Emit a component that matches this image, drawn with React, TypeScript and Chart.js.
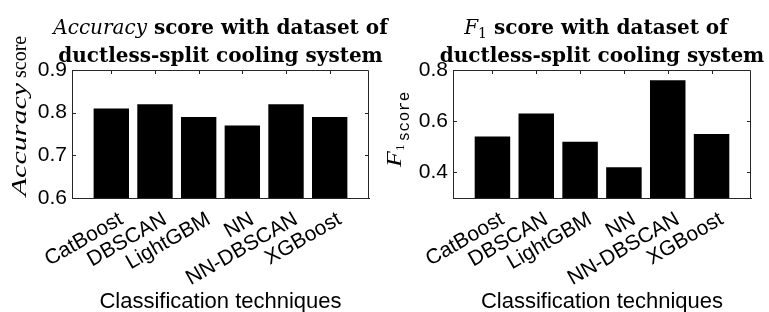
import React, { useEffect, useRef } from 'react';
import { Chart, registerables } from 'chart.js';

Chart.register(...registerables);

const categories = ['CatBoost', 'DBSCAN', 'LightGBM', 'NN', 'NN-DBSCAN', 'XGBoost'];
const accuracyValues = [0.81, 0.82, 0.79, 0.77, 0.82, 0.79];
const f1Values = [0.54, 0.63, 0.52, 0.42, 0.76, 0.55];
const accuracyTicks = [0.6, 0.7, 0.8, 0.9];
const f1Ticks = [0.4, 0.6, 0.8];
const xAxisTitle = 'Classification techniques';

const AXIS = '#262626';
const SANS = '"Liberation Sans", Arial, sans-serif';
const SERIF_T = '"DejaVu Serif", serif';
const SERIF = '"Liberation Serif", serif';
const MONO = '"Liberation Mono", monospace';

type Seg = { text: string; font: string; sx?: number; ls?: number; dy?: number };

function segWidth(ctx: CanvasRenderingContext2D, s: Seg) {
  ctx.font = s.font;
  (ctx as any).letterSpacing = (s.ls ?? 0) + 'px';
  return ctx.measureText(s.text).width * (s.sx ?? 1);
}

function drawRun(ctx: CanvasRenderingContext2D, segs: Seg[], cx: number, y: number) {
  const total = segs.reduce((acc, s) => acc + segWidth(ctx, s), 0);
  let x = cx - total / 2;
  for (const s of segs) {
    const w = segWidth(ctx, s);
    ctx.save();
    ctx.font = s.font;
    (ctx as any).letterSpacing = (s.ls ?? 0) + 'px';
    ctx.translate(x, y + (s.dy ?? 0));
    ctx.scale(s.sx ?? 1, 1);
    ctx.fillStyle = '#000';
    ctx.textAlign = 'left';
    ctx.textBaseline = 'alphabetic';
    ctx.fillText(s.text, 0, 0);
    ctx.restore();
    x += w;
  }
}

type PanelSpec = {
  values: number[];
  ticks: number[];
  yMin: number;
  yMax: number;
  width: number;
  area: { left: number; right: number; top: number; bottom: number };
  titleLines: Seg[][];
  titleBaselines: number[];
  titleShift: number[];
  yTitle: Seg[];
  yTitleX: number;
  yTitleCY: number;
};

function makeChart(canvas: HTMLCanvasElement, p: PanelSpec) {
  const H = 312;
  const textPlugin = {
    id: 'richText',
    afterDraw(chart: any) {
      const { ctx, chartArea: a } = chart;
      const cx = (a.left + a.right) / 2;
      p.titleLines.forEach((line, i) => drawRun(ctx, line, cx + p.titleShift[i], p.titleBaselines[i]));
      ctx.save();
      ctx.translate(p.yTitleX, p.yTitleCY);
      ctx.rotate(-Math.PI / 2);
      drawRun(ctx, p.yTitle, 0, 0);
      ctx.restore();
    },
  };
  const boxPlugin = {
    id: 'box',
    afterDatasetsDraw(chart: any) {
      const { ctx, chartArea: a, scales } = chart;
      const x = scales.x;
      const y = scales.y;
      ctx.save();
      ctx.strokeStyle = AXIS;
      ctx.lineWidth = 1;
      const L = Math.round(a.left) + 0.5;
      const R = Math.round(a.right) - 0.5;
      const T = Math.round(a.top) + 0.5;
      ctx.beginPath();
      ctx.moveTo(L, T);
      ctx.lineTo(R, T);
      ctx.lineTo(R, Math.round(a.bottom));
      categories.forEach((_, i) => {
        const px = Math.round(x.getPixelForValue(i + 1)) + 0.5;
        ctx.moveTo(px, T);
        ctx.lineTo(px, T + 3.5);
      });
      p.ticks.forEach((t) => {
        if (t <= p.yMin || t >= p.yMax) return;
        const py = Math.round(y.getPixelForValue(t)) + 0.5;
        ctx.moveTo(L, py);
        ctx.lineTo(L + 3.5, py);
        ctx.moveTo(R, py);
        ctx.lineTo(R - 3.5, py);
      });
      ctx.stroke();
      ctx.restore();
    },
  };

  return new Chart(canvas, {
    type: 'bar',
    data: {
      datasets: [
        {
          data: p.values.map((v, i) => ({ x: i + 1, y: v })),
          backgroundColor: '#000',
          borderWidth: 0,
          barPercentage: 0.81,
          categoryPercentage: 1,
        },
      ],
    },
    options: {
      animation: false,
      responsive: false,
      maintainAspectRatio: false,
      layout: { padding: { top: p.area.top, right: p.width - p.area.right, bottom: 0, left: 0 } },
      plugins: { legend: { display: false }, title: { display: false }, tooltip: { enabled: false } },
      scales: {
        x: {
          type: 'linear',
          offset: false,
          min: 0.1,
          max: 6.9,
          afterBuildTicks: (ax: any) => {
            ax.ticks = categories.map((_, i) => ({ value: i + 1 }));
          },
          afterFit: (s: any) => {
            s.height = H - p.area.bottom;
          },
          grid: { display: false, drawTicks: false, offset: false },
          border: { display: true, color: AXIS, width: 1 },
          ticks: {
            autoSkip: false,
            minRotation: 30,
            maxRotation: 30,
            padding: 9,
            labelOffset: 10,
            color: '#000',
            font: { family: SANS, size: 21 },
            callback: (v: any) => categories[Math.round(Number(v)) - 1] ?? '',
          },
          title: {
            display: true,
            text: xAxisTitle,
            color: '#000',
            font: { family: SANS, size: 22 },
            padding: { top: 0, bottom: -3 },
          },
        },
        y: {
          type: 'linear',
          min: p.yMin,
          max: p.yMax,
          afterBuildTicks: (ax: any) => {
            ax.ticks = p.ticks.map((t) => ({ value: t }));
          },
          afterFit: (s: any) => {
            s.width = p.area.left;
          },
          grid: { display: false, drawTicks: false },
          border: { display: true, color: AXIS, width: 1 },
          ticks: {
            padding: 5,
            color: '#000',
            font: { family: SANS, size: 21 },
            callback: (v: any) => Number(v).toFixed(1),
          },
        },
      },
    },
    plugins: [boxPlugin, textPlugin],
  } as any);
}

const leftSpec: PanelSpec = {
  values: accuracyValues,
  ticks: accuracyTicks,
  yMin: 0.6,
  yMax: 0.9,
  width: 400,
  area: { left: 72, right: 369, top: 70, bottom: 198 },
  titleLines: [
    [
      { text: 'Accuracy', font: `italic 20px ${SERIF_T}` },
      { text: ' score with dataset of', font: `bold 20px ${SERIF_T}` },
    ],
    [{ text: 'ductless-split cooling system', font: `bold 20px ${SERIF_T}` }],
  ],
  titleBaselines: [34, 62],
  titleShift: [0, 0],
  yTitle: [
    { text: 'Accuracy', font: `italic 20px ${SERIF}`, sx: 1.5 },
    { text: ' score', font: `20px ${SERIF}` },
  ],
  yTitleX: 25.5,
  yTitleCY: 116,
};

const rightSpec: PanelSpec = {
  values: f1Values,
  ticks: f1Ticks,
  yMin: 0.3,
  yMax: 0.8,
  width: 385,
  area: { left: 69, right: 367, top: 70, bottom: 198 },
  titleLines: [
    [
      { text: 'F', font: `italic 20px ${SERIF_T}` },
      { text: '1', font: `14px ${SERIF_T}`, dy: 4 },
      { text: ' score with dataset of', font: `bold 20px ${SERIF_T}` },
    ],
    [{ text: 'ductless-split cooling system', font: `bold 20px ${SERIF_T}` }],
  ],
  titleBaselines: [34, 62],
  titleShift: [-6, 0],
  yTitle: [
    { text: 'F', font: `italic 20px ${SERIF}`, sx: 1.3 },
    { text: '1', font: `13px ${SERIF}`, dy: 3 },
    { text: ' ', font: `12px ${SERIF}` },
    { text: 'score', font: `16px ${MONO}`, dy: 8, ls: 0.5 },
  ],
  yTitleX: 17,
  yTitleCY: 129,
};

function Panel({ spec, left }: { spec: PanelSpec; left: number }) {
  const ref = useRef<HTMLCanvasElement>(null);
  useEffect(() => {
    if (!ref.current) return;
    const c = makeChart(ref.current, spec);
    return () => c.destroy();
  }, [spec]);
  return (
    <canvas
      ref={ref}
      width={spec.width}
      height={312}
      style={{ position: 'absolute', left, top: 0, width: spec.width, height: 312 }}
    />
  );
}

export default function App() {
  return (
    <div
      style={{
        position: 'fixed',
        left: 0,
        top: 0,
        width: 769,
        height: 312,
        background: '#fff',
        overflow: 'hidden',
      }}
    >
      <Panel spec={leftSpec} left={0} />
      <Panel spec={rightSpec} left={384} />
    </div>
  );
}
